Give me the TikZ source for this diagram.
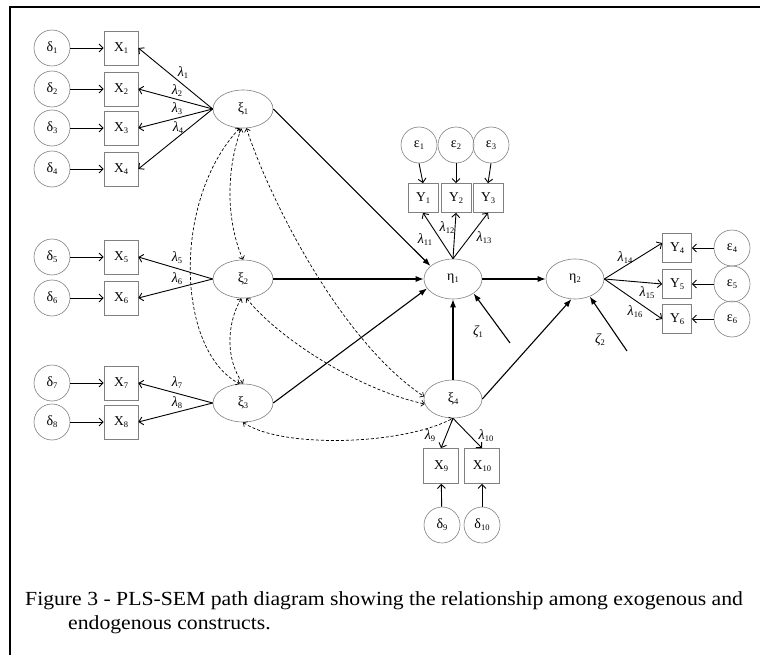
\documentclass[tikz,border=0pt]{standalone}
\usepackage{fontspec}
\setmainfont{Liberation Serif}
\usetikzlibrary{arrows.meta,shapes.geometric}
\newcommand{\sbx}[1]{\raisebox{-0.3ex}{\upshape\fontsize{8.5}{8.5}\selectfont #1}}
\begin{document}
\begin{tikzpicture}[x=1pt,y=-1pt,
  lat/.style={ellipse, draw=gray, line width=0.6pt, minimum width=60pt, minimum height=38pt, inner sep=0pt, font=\fontsize{14}{14}\selectfont},
  ind/.style={rectangle, draw=gray, line width=0.7pt, minimum width=34pt, minimum height=34pt, inner sep=0pt, font=\fontsize{13.5}{13.5}\selectfont},
  err/.style={circle, draw=gray, line width=0.6pt, minimum size=36pt, inner sep=0pt, font=\fontsize{14}{14}\selectfont},
  spath/.style={-{Latex[length=8pt,width=6pt]}, line width=1.1pt},
  load/.style={-{Straight Barb[length=4pt,width=8pt]}, line width=0.9pt},
  cov/.style={{Straight Barb[length=3pt,width=6pt]}-{Straight Barb[length=3pt,width=6pt]}, densely dashed, line width=0.7pt},
  lab/.style={font=\fontsize{14}{14}\selectfont\itshape, inner sep=0pt},
  capt/.style={anchor=base west, inner sep=0pt, font=\fontsize{20}{20}\selectfont}]
\useasboundingbox (0,0) rectangle (760,655);
\draw[line width=1.4pt] (10,655) -- (10,7) -- (760,7);

% exogenous indicators
\foreach \i/\y in {1/48,2/89,3/128,4/169,5/257,6/298,7/383,8/422}{
  \node[err] (d\i) at (52,\y) {δ\sbx{\i}};
  \node[ind] (x\i) at (121,\y) {X\sbx{\i}};
  \draw[load] (d\i) -- (x\i);
}
% latent variables
\node[lat] (k1) at (243,109) {ξ\sbx{1}};
\node[lat] (k2) at (243,279) {ξ\sbx{2}};
\node[lat] (k3) at (243,403) {ξ\sbx{3}};
\node[lat, minimum width=58pt] (k4) at (453,399) {ξ\sbx{4}};
\node[lat, minimum width=58pt, minimum height=40pt] (e1) at (453,279) {η\sbx{1}};
\node[lat, minimum width=58pt, minimum height=40pt] (e2) at (575,279) {η\sbx{2}};

% loadings
\foreach \i in {1,2,3,4}{\draw[load] (k1.west) -- (x\i.east);}
\foreach \i in {5,6}{\draw[load] (k2.west) -- (x\i.east);}
\foreach \i in {7,8}{\draw[load] (k3.west) -- (x\i.east);}

% Y1-Y3
\node[ind, minimum width=30pt, minimum height=29pt] (y1) at (423,198) {Y\sbx{1}};
\node[ind, minimum width=30pt, minimum height=29pt] (y2) at (456,198) {Y\sbx{2}};
\node[ind, minimum width=30pt, minimum height=29pt] (y3) at (488,198) {Y\sbx{3}};
\node[err] (ep1) at (419,145) {ε\sbx{1}};
\node[err] (ep2) at (456,145) {ε\sbx{2}};
\node[err] (ep3) at (491,145) {ε\sbx{3}};
\foreach \i in {1,2,3}{
  \draw[load] (ep\i.south) -- (y\i.north);
  \draw[load] (e1.north) -- (y\i.south);
}
% Y4-Y6
\foreach \i/\y in {4/248,5/284,6/319}{
  \node[ind, minimum width=29pt, minimum height=29pt] (y\i) at (677,\y) {Y\sbx{\i}};
  \node[err] (ep\i) at (732,\y) {ε\sbx{\i}};
  \draw[load] (ep\i) -- (y\i);
}
\draw[load] (e2.east) -- ([yshift=5pt]y4.west);
\draw[load] (e2.east) -- (y5.west);
\draw[load] (e2.east) -- (y6.west);

% X9 X10
\node[ind, minimum width=35pt, minimum height=35pt] (x9) at (441,466) {X\sbx{9}};
\node[ind, minimum width=35pt, minimum height=35pt] (x10) at (482,466) {X\sbx{10}};
\node[err] (d9) at (442,525) {δ\sbx{9}};
\node[err] (d10) at (482,525) {δ\sbx{10}};
\draw[load] (d9) -- (x9);
\draw[load] (d10) -- (x10);
\draw[load] (k4.south) -- (x9.north);
\draw[load] (k4.south) -- (x10.north);

% structural paths
\draw[spath] (k1.east) -- (e1.150);
\draw[spath] (k2.east) -- (e1.west);
\draw[spath] (k3.east) -- (e1.200);
\draw[spath] (k4.north) -- (e1.south);
\draw[spath] (k4.east) -- (e2.-100);
\draw[spath] (e1.east) -- (e2.west);
\coordinate (z1) at (510,343);
\coordinate (z2) at (627,351);
\draw[spath] (z1) -- (e1.-35);
\draw[spath] (z2) -- (e2.-50);

% covariances
\draw[cov] (k1.-95) .. controls (226,170) and (226,220) .. (k2.north);
\draw[cov] (k2.-95) .. controls (226,325) and (226,360) .. (k3.north);
\draw[cov] (k1.-100) .. controls (172,200) and (176,350) .. (k3.100);
\draw[cov] (k1.-80) .. controls (270,200) and (340,340) .. (k4.175);
\draw[cov] (k2.-80) .. controls (280,340) and (360,390) .. (k4.190);
\draw[cov] (k3.-90) .. controls (280,448) and (400,446) .. (k4.-90);

% labels
\node[lab] (l1) at (183,73) {λ\sbx{1}};
\node[lab] (l2) at (177,91) {λ\sbx{2}};
\node[lab] (l3) at (177,109) {λ\sbx{3}};
\node[lab] (l4) at (178,128) {λ\sbx{4}};
\node[lab] (l5) at (177,258) {λ\sbx{5}};
\node[lab] (l6) at (177,279) {λ\sbx{6}};
\node[lab] (l7) at (177,383) {λ\sbx{7}};
\node[lab] (l8) at (177,403) {λ\sbx{8}};
\node[lab] (l9) at (430,436) {λ\sbx{9}};
\node[lab] (l10) at (486,436) {λ\sbx{10}};
\node[lab] (l11) at (425,240) {λ\sbx{11}};
\node[lab] (l12) at (447,228) {λ\sbx{12}};
\node[lab] (l13) at (484,238) {λ\sbx{13}};
\node[lab] (l14) at (625,258) {λ\sbx{14}};
\node[lab] (l15) at (647,293) {λ\sbx{15}};
\node[lab] (l16) at (635,312) {λ\sbx{16}};
\node[lab] (zl1) at (478,332) {ζ\sbx{1}};
\node[lab] (zl2) at (600,340) {ζ\sbx{2}};

% caption
\node[capt] (cap1) at (25,605) {\scalebox{1.085}[1]{Figure 3 - PLS-SEM path diagram showing the relationship among exogenous and}};
\node[capt] (cap2) at (68,629) {\scalebox{1.085}[1]{endogenous constructs.}};
\end{tikzpicture}
\end{document}
